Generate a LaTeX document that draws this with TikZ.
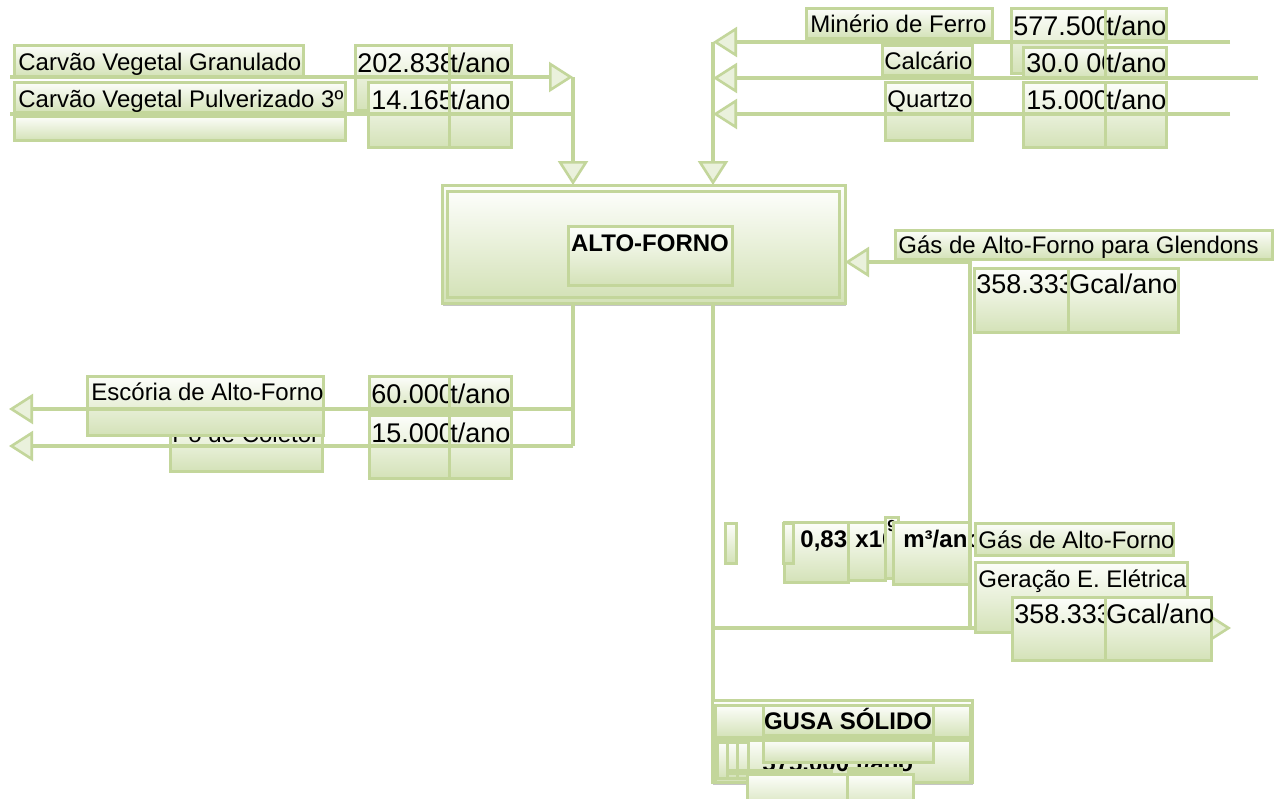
\documentclass[tikz,border=0pt]{standalone}
\usepackage{fontspec}
\setmainfont{Liberation Sans}
\usetikzlibrary{arrows.meta,shadows}
\definecolor{olv}{RGB}{195,214,155}
\definecolor{olvlo}{RGB}{212,226,184}
\definecolor{olvhi}{RGB}{253,254,251}
\definecolor{olvmid}{RGB}{234,241,220}
\tikzset{
  bx/.style={rectangle, draw=olv, line width=1.5pt, top color=olvhi, bottom color=olvlo,
             inner sep=0pt, outer sep=0pt},
  shad/.style={drop shadow={shadow xshift=0.6pt, shadow yshift=-1.3pt, fill=black!45}},
  lbl/.style={inner sep=0pt, anchor=base west, font=\fontsize{12}{14}\selectfont},
  num/.style={lbl, font=\fontsize{13.5}{15}\selectfont},
  bnum/.style={lbl, font=\fontsize{12}{14}\selectfont\bfseries},
  title/.style={inner sep=0pt, anchor=base, font=\fontsize{12}{14}\selectfont\bfseries},
  flow/.style={draw=olv, line width=2.4pt},
  tip/.style={-{Triangle[length=12pt, width=15pt, line width=1.3pt, fill=olvmid]}},
}
% box: name, x1, y1, x2, y2 (pixel grid, y downwards)
\newcommand\bx[6][]{\node[bx,#1,anchor=north west,minimum width={(#5-#3)*0.5pt},
  minimum height={(#6-#4)*0.5pt}] (#2) at (#3,#4) {};}
% text: style, name, x, baseline y, text
\newcommand\tx[5]{\node[#1] (#2) at (#3,#4) {#5};}
\begin{document}
\begin{tikzpicture}[x=0.5pt,y=-0.5pt]
\useasboundingbox (0,0) rectangle (1279,798);
\fill[white] (0,0) rectangle (1279,798);

% junction points and free ends of the flows
\coordinate (inCVG) at (10,77);
\coordinate (inCVP) at (10,114);
\coordinate (jL1) at (573,77);
\coordinate (jL2) at (573,114);
\coordinate (jR1) at (713,42);
\coordinate (jR2) at (713,78);
\coordinate (jR3) at (713,114);
\coordinate (inMF) at (1230,42);
\coordinate (inCAL) at (1258,78);
\coordinate (inQZ) at (1230,114);
\coordinate (outSlag) at (9,409);
\coordinate (outDust) at (9,446);
\coordinate (jS1) at (573,409);
\coordinate (jS2) at (573,446);
\coordinate (jG) at (713,628);
\coordinate (jG2) at (970,628);
\coordinate (jG3) at (970,262);
\coordinate (outEE) at (1231,628);

% gas to power generation (runs behind its labels)
\draw[flow,tip] (jG) -- (outEE);

% ---------- charcoal inputs ----------
\bx{cvg}{14}{45}{303}{76}
\tx{lbl}{cvgT}{18}{70}{Carvão Vegetal Granulado}
\bx{v1}{355}{45}{449}{110}
\tx{num}{v1T}{357}{72}{202.838}
\bx{u1}{449}{45}{511}{77}
\tx{num}{u1T}{450}{72}{t/ano}
\bx{cvp}{14}{82}{345}{112}
\tx{lbl}{cvpT}{18}{107}{Carvão Vegetal Pulverizado 3º}
\bx{cvpb}{14}{116}{345}{140}
\bx{v2}{368}{82}{449}{147}
\tx{num}{v2T}{371}{109}{14.165}
\bx{u2}{449}{82}{511}{147}
\tx{num}{u2T}{450}{109}{t/ano}

% ---------- ore and fluxes ----------
\bx{mf}{806}{8}{992}{38}
\tx{lbl}{mfT}{810}{32}{Minério de Ferro}
\bx{v3}{1011}{8}{1105}{73}
\tx{num}{v3T}{1013}{35}{577.500}
\bx{u3}{1105}{8}{1166}{40}
\tx{num}{u3T}{1106}{35}{t/ano}
\bx{cal}{882}{45}{972}{75}
\tx{lbl}{calT}{884}{69}{Calcário}
\bx{v4}{1023}{47}{1105}{78}
\tx{num}{v4T}{1026}{72}{30.0 00}
\bx{u4}{1105}{47}{1166}{78}
\tx{num}{u4T}{1106}{72}{t/ano}
\bx{qz}{885}{82}{972}{140}
\tx{lbl}{qzT}{887}{107}{Quartzo}
\bx{v5}{1023}{82}{1105}{147}
\tx{num}{v5T}{1026}{109}{15.000}
\bx{u5}{1105}{82}{1166}{147}
\tx{num}{u5T}{1106}{109}{t/ano}

% ---------- blast furnace ----------
\bx[shad]{afo}{442}{185}{845}{303}
\bx{afi}{447}{191}{839}{297}
\bx{afl}{568}{226}{732}{285}
\tx{title}{aflT}{650}{251}{ALTO-FORNO}

% ---------- gas to Glendons ----------
\bx{gg}{895}{230}{1272}{259}
\tx{lbl}{ggT}{898}{253}{Gás de Alto-Forno para Glendons}
\bx{v6}{974}{268}{1068}{332}
\tx{num}{v6T}{976}{293}{358.333}
\bx{u6}{1068}{268}{1178}{332}
\tx{num}{u6T}{1069}{293}{Gcal/ano}

% ---------- slag and dust ----------
\bx{pc}{170}{418}{322}{471}
\tx{lbl}{pcT}{172}{442}{Pó de Coletor}
\bx{esc}{87}{376}{323}{435}
\tx{lbl}{escT}{91}{400}{Escória de Alto-Forno}
\bx{v7}{369}{376}{449}{412}
\tx{num}{v7T}{371}{403}{60.000}
\bx{u7}{449}{376}{511}{412}
\tx{num}{u7T}{450}{403}{t/ano}
\bx{v8}{369}{415}{449}{478}
\tx{num}{v8T}{371}{442}{15.000}
\bx{u8}{449}{415}{511}{478}
\tx{num}{u8T}{450}{442}{t/ano}

% ---------- gas volume and power generation ----------
\bx{n1}{725}{523}{736}{563}
\bx{vol}{784}{522}{848}{582}
\tx{bnum}{volT}{800}{547}{0,83}
\bx{n2}{783}{523}{793}{563}
\bx{x10}{848}{522}{885}{580}
\tx{bnum}{x10T}{855}{547}{x10}
\bx{e9}{885}{517}{898}{578}
\tx{{lbl,font=\fontsize{8}{9}\selectfont\bfseries}}{e9T}{887}{531}{9}
\bx{m3}{893}{522}{970}{584}
\tx{bnum}{m3T}{903}{547}{m³/ano}
\bx{ga}{975}{523}{1173}{555}
\tx{lbl}{gaT}{978}{548}{Gás de Alto-Forno}
\bx{ge}{975}{562}{1187}{632}
\tx{lbl}{geT}{978}{587}{Geração E. Elétrica}
\bx{v9}{1012}{597}{1105}{660}
\tx{num}{v9T}{1014}{623}{358.333}
\bx{u9}{1105}{597}{1211}{660}
\tx{num}{u9T}{1106}{623}{Gcal/ano}

% ---------- solid pig iron ----------
\bx[shad]{gso}{712}{700}{972}{782}
\bx{gsh}{715}{705}{970}{737}
\bx{gsl}{763}{705}{933}{735}
\tx{title}{gslT}{848}{729}{GUSA SÓLIDO}
\bx{gsb}{715}{740}{970}{782}
\tx{bnum}{gsbT}{762}{771}{575.000 t/ano}
\bx{gsc}{763}{740}{933}{762}
\bx{gn1}{717}{742}{727}{778}
\bx{gn2}{727}{742}{737}{778}
\bx{gn3}{737}{742}{748}{778}
\draw[flow,line width=3pt] (727,772) -- (833,772);
\draw[flow,line width=3pt] (847,770) -- (903,770);
\bx{gl1}{747}{774}{847}{810}
\bx{gl2}{847}{774}{913}{810}

% ---------- flows ----------
\draw[flow,tip] (inCVG) -- (jL1);
\draw[flow] (inCVP) -- (jL2);
\draw[flow,tip] (jL1) -- (afo.north -| jL1);
\draw[flow,tip] (inMF) -- (jR1);
\draw[flow,tip] (inCAL) -- (jR2);
\draw[flow,tip] (inQZ) -- (jR3);
\draw[flow,tip] (jR1) -- (afo.north -| jR1);
\draw[flow] (afo.south -| jS1) -- (jS2);
\draw[flow,tip] (jS1) -- (outSlag);
\draw[flow,tip] (jS2) -- (outDust);
\draw[flow] (afo.south -| jG) -- (gso.north -| jG);
\draw[flow,tip] (jG2) -- (jG3) -- (afo.east |- jG3);
\end{tikzpicture}
\end{document}
